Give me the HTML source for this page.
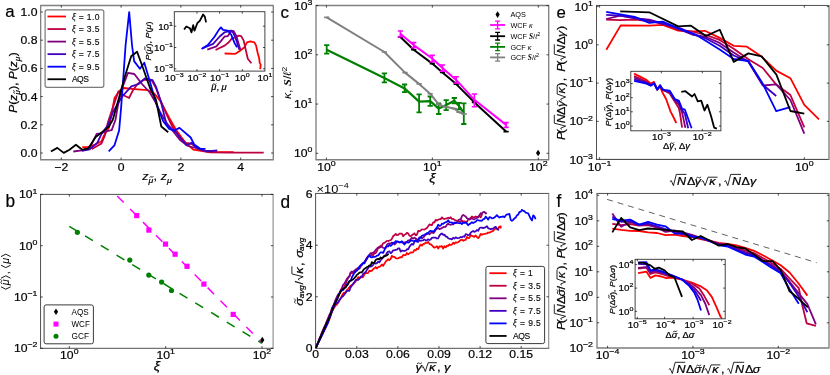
<!DOCTYPE html>
<html><head><meta charset="utf-8"><style>
html,body{margin:0;padding:0;background:#fff;}
svg{display:block;font-family:"Liberation Sans",sans-serif;}
text{fill:#000;}
svg{will-change:transform;}
</style></head><body>
<svg width="830" height="375" viewBox="0 0 830 375">
<rect width="830" height="375" fill="#fff"/>
<path d="M40.15 5.45H273.8" stroke="#808080" stroke-width="1.35" fill="none"/>
<path d="M40.15 159.75H273.8" stroke="#808080" stroke-width="1.35" fill="none"/>
<path d="M40.65 5.45V159.75" stroke="#808080" stroke-width="1.35" fill="none"/>
<path d="M273.3 5.45V159.75" stroke="#808080" stroke-width="1.35" fill="none"/>
<path d="M61.30 159.75v-2.2M61.30 5.45v2.2M121.10 159.75v-2.2M121.10 5.45v2.2M180.90 159.75v-2.2M180.90 5.45v2.2M240.70 159.75v-2.2M240.70 5.45v2.2M40.65 153.00h2.2M273.3 153.00h-2.2M40.65 124.80h2.2M273.3 124.80h-2.2M40.65 96.60h2.2M273.3 96.60h-2.2M40.65 68.40h2.2M273.3 68.40h-2.2M40.65 40.20h2.2M273.3 40.20h-2.2M40.65 12.00h2.2M273.3 12.00h-2.2" stroke="#000" stroke-width="0.7" fill="none"/>
<text transform="translate(37.50 157.00) scale(1.13 1)" font-size="10.8" text-anchor="end" stroke="#000" stroke-width="0.2" >0.0</text>
<text transform="translate(37.50 128.80) scale(1.13 1)" font-size="10.8" text-anchor="end" stroke="#000" stroke-width="0.2" >0.2</text>
<text transform="translate(37.50 100.60) scale(1.13 1)" font-size="10.8" text-anchor="end" stroke="#000" stroke-width="0.2" >0.4</text>
<text transform="translate(37.50 72.40) scale(1.13 1)" font-size="10.8" text-anchor="end" stroke="#000" stroke-width="0.2" >0.6</text>
<text transform="translate(37.50 44.20) scale(1.13 1)" font-size="10.8" text-anchor="end" stroke="#000" stroke-width="0.2" >0.8</text>
<text transform="translate(37.50 16.00) scale(1.13 1)" font-size="10.8" text-anchor="end" stroke="#000" stroke-width="0.2" >1.0</text>
<text transform="translate(61.30 171.30) scale(1.13 1)" font-size="10.8" text-anchor="middle" stroke="#000" stroke-width="0.2" >−2</text>
<text transform="translate(121.10 171.30) scale(1.13 1)" font-size="10.8" text-anchor="middle" stroke="#000" stroke-width="0.2" >0</text>
<text transform="translate(180.90 171.30) scale(1.13 1)" font-size="10.8" text-anchor="middle" stroke="#000" stroke-width="0.2" >2</text>
<text transform="translate(240.70 171.30) scale(1.13 1)" font-size="10.8" text-anchor="middle" stroke="#000" stroke-width="0.2" >4</text>
<text transform="translate(5.20 17.40) scale(1.0 1)" font-size="16.8" text-anchor="start" stroke="#000" stroke-width="0.2" >a</text>
<path d="M40.05 194.4H273.6" stroke="#505050" stroke-width="1.0" fill="none"/>
<path d="M40.05 348.3H273.6" stroke="#505050" stroke-width="1.0" fill="none"/>
<path d="M40.55 194.4V348.3" stroke="#505050" stroke-width="1.0" fill="none"/>
<path d="M273.1 194.4V348.3" stroke="#8a8a8a" stroke-width="1.1" fill="none"/>
<path d="M69.30 348.3v-2.2M69.30 194.4v2.2M165.65 348.3v-2.2M165.65 194.4v2.2M262.00 348.3v-2.2M262.00 194.4v2.2M40.55 194.40h2.2M273.1 194.40h-2.2M40.55 245.70h2.2M273.1 245.70h-2.2M40.55 297.00h2.2M273.1 297.00h-2.2M40.55 348.30h2.2M273.1 348.30h-2.2" stroke="#000" stroke-width="0.7" fill="none"/>
<text transform="translate(37.50 198.40) scale(1.13 1)" font-size="10.8" text-anchor="end" stroke="#000" stroke-width="0.2" >10<tspan dy="-4.86" font-size="7.78">1</tspan></text>
<text transform="translate(37.50 249.70) scale(1.13 1)" font-size="10.8" text-anchor="end" stroke="#000" stroke-width="0.2" >10<tspan dy="-4.86" font-size="7.78">0</tspan></text>
<text transform="translate(37.50 301.00) scale(1.13 1)" font-size="10.8" text-anchor="end" stroke="#000" stroke-width="0.2" >10<tspan dy="-4.86" font-size="7.78">−1</tspan></text>
<text transform="translate(37.50 352.30) scale(1.13 1)" font-size="10.8" text-anchor="end" stroke="#000" stroke-width="0.2" >10<tspan dy="-4.86" font-size="7.78">−2</tspan></text>
<text transform="translate(69.30 359.30) scale(1.13 1)" font-size="10.8" text-anchor="middle" stroke="#000" stroke-width="0.2" >10<tspan dy="-4.86" font-size="7.78">0</tspan></text>
<text transform="translate(165.65 359.30) scale(1.13 1)" font-size="10.8" text-anchor="middle" stroke="#000" stroke-width="0.2" >10<tspan dy="-4.86" font-size="7.78">1</tspan></text>
<text transform="translate(262.00 359.30) scale(1.13 1)" font-size="10.8" text-anchor="middle" stroke="#000" stroke-width="0.2" >10<tspan dy="-4.86" font-size="7.78">2</tspan></text>
<text transform="translate(5.40 207.30) scale(0.98 1)" font-size="17.6" text-anchor="start" stroke="#000" stroke-width="0.2" >b</text>
<path d="M315.5 5.45H549.2" stroke="#808080" stroke-width="1.35" fill="none"/>
<path d="M315.5 159.75H549.2" stroke="#808080" stroke-width="1.35" fill="none"/>
<path d="M316.0 5.45V159.75" stroke="#808080" stroke-width="1.35" fill="none"/>
<path d="M548.7 5.45V159.75" stroke="#808080" stroke-width="1.35" fill="none"/>
<path d="M326.40 159.75v-2.2M326.40 5.45v2.2M432.35 159.75v-2.2M432.35 5.45v2.2M538.30 159.75v-2.2M538.30 5.45v2.2M316.0 153.30h2.2M548.7 153.30h-2.2M316.0 104.05h2.2M548.7 104.05h-2.2M316.0 54.80h2.2M548.7 54.80h-2.2M316.0 5.55h2.2M548.7 5.55h-2.2" stroke="#000" stroke-width="0.7" fill="none"/>
<text transform="translate(312.50 157.30) scale(1.13 1)" font-size="10.8" text-anchor="end" stroke="#000" stroke-width="0.2" >10<tspan dy="-4.86" font-size="7.78">0</tspan></text>
<text transform="translate(312.50 108.05) scale(1.13 1)" font-size="10.8" text-anchor="end" stroke="#000" stroke-width="0.2" >10<tspan dy="-4.86" font-size="7.78">1</tspan></text>
<text transform="translate(312.50 58.80) scale(1.13 1)" font-size="10.8" text-anchor="end" stroke="#000" stroke-width="0.2" >10<tspan dy="-4.86" font-size="7.78">2</tspan></text>
<text transform="translate(312.50 9.55) scale(1.13 1)" font-size="10.8" text-anchor="end" stroke="#000" stroke-width="0.2" >10<tspan dy="-4.86" font-size="7.78">3</tspan></text>
<text transform="translate(326.40 170.50) scale(1.13 1)" font-size="10.8" text-anchor="middle" stroke="#000" stroke-width="0.2" >10<tspan dy="-4.86" font-size="7.78">0</tspan></text>
<text transform="translate(432.35 170.50) scale(1.13 1)" font-size="10.8" text-anchor="middle" stroke="#000" stroke-width="0.2" >10<tspan dy="-4.86" font-size="7.78">1</tspan></text>
<text transform="translate(538.30 170.50) scale(1.13 1)" font-size="10.8" text-anchor="middle" stroke="#000" stroke-width="0.2" >10<tspan dy="-4.86" font-size="7.78">2</tspan></text>
<text transform="translate(280.60 17.80) scale(1.0 1)" font-size="16.8" text-anchor="start" stroke="#000" stroke-width="0.2" >c</text>
<path d="M315.1 193.45H549.2" stroke="#505050" stroke-width="1.0" fill="none"/>
<path d="M315.1 348.3H549.2" stroke="#505050" stroke-width="1.0" fill="none"/>
<path d="M315.6 193.45V348.3" stroke="#505050" stroke-width="1.0" fill="none"/>
<path d="M548.7 193.45V348.3" stroke="#8a8a8a" stroke-width="1.1" fill="none"/>
<path d="M356.80 348.3v-2.2M356.80 193.45v2.2M397.90 348.3v-2.2M397.90 193.45v2.2M439.00 348.3v-2.2M439.00 193.45v2.2M480.10 348.3v-2.2M480.10 193.45v2.2M521.20 348.3v-2.2M521.20 193.45v2.2M315.6 296.76h2.2M548.7 296.76h-2.2M315.6 245.22h2.2M548.7 245.22h-2.2" stroke="#000" stroke-width="0.7" fill="none"/>
<text transform="translate(312.50 352.30) scale(1.13 1)" font-size="10.8" text-anchor="end" stroke="#000" stroke-width="0.2" >0</text>
<text transform="translate(312.50 300.76) scale(1.13 1)" font-size="10.8" text-anchor="end" stroke="#000" stroke-width="0.2" >2</text>
<text transform="translate(312.50 249.22) scale(1.13 1)" font-size="10.8" text-anchor="end" stroke="#000" stroke-width="0.2" >4</text>
<text transform="translate(312.50 197.68) scale(1.13 1)" font-size="10.8" text-anchor="end" stroke="#000" stroke-width="0.2" >6</text>
<text transform="translate(315.70 358.40) scale(1.13 1)" font-size="10.8" text-anchor="middle" stroke="#000" stroke-width="0.2" >0</text>
<text transform="translate(356.80 358.40) scale(1.13 1)" font-size="10.8" text-anchor="middle" stroke="#000" stroke-width="0.2" >0.03</text>
<text transform="translate(397.90 358.40) scale(1.13 1)" font-size="10.8" text-anchor="middle" stroke="#000" stroke-width="0.2" >0.06</text>
<text transform="translate(439.00 358.40) scale(1.13 1)" font-size="10.8" text-anchor="middle" stroke="#000" stroke-width="0.2" >0.09</text>
<text transform="translate(480.10 358.40) scale(1.13 1)" font-size="10.8" text-anchor="middle" stroke="#000" stroke-width="0.2" >0.12</text>
<text transform="translate(521.20 358.40) scale(1.13 1)" font-size="10.8" text-anchor="middle" stroke="#000" stroke-width="0.2" >0.15</text>
<text transform="translate(280.40 207.50) scale(0.98 1)" font-size="17.6" text-anchor="start" stroke="#000" stroke-width="0.2" >d</text>
<path d="M596.0 5.45H829.5" stroke="#505050" stroke-width="1.0" fill="none"/>
<path d="M596.0 159.4H829.5" stroke="#3a3a3a" stroke-width="1.0" fill="none"/>
<path d="M596.5 5.45V159.4" stroke="#505050" stroke-width="1.0" fill="none"/>
<path d="M829.0 5.45V159.4" stroke="#9a9a9a" stroke-width="1.7" fill="none"/>
<path d="M599.60 159.4v-2.2M599.60 5.45v2.2M804.30 159.4v-2.2M804.30 5.45v2.2M596.5 6.60h2.2M829.0 6.60h-2.2M596.5 44.85h2.2M829.0 44.85h-2.2M596.5 83.10h2.2M829.0 83.10h-2.2M596.5 121.35h2.2M829.0 121.35h-2.2" stroke="#000" stroke-width="0.7" fill="none"/>
<text transform="translate(593.00 10.60) scale(1.13 1)" font-size="10.8" text-anchor="end" stroke="#000" stroke-width="0.2" >10<tspan dy="-4.86" font-size="7.78">1</tspan></text>
<text transform="translate(593.00 48.85) scale(1.13 1)" font-size="10.8" text-anchor="end" stroke="#000" stroke-width="0.2" >10<tspan dy="-4.86" font-size="7.78">0</tspan></text>
<text transform="translate(593.00 87.10) scale(1.13 1)" font-size="10.8" text-anchor="end" stroke="#000" stroke-width="0.2" >10<tspan dy="-4.86" font-size="7.78">−1</tspan></text>
<text transform="translate(593.00 125.35) scale(1.13 1)" font-size="10.8" text-anchor="end" stroke="#000" stroke-width="0.2" >10<tspan dy="-4.86" font-size="7.78">−2</tspan></text>
<text transform="translate(593.00 163.60) scale(1.13 1)" font-size="10.8" text-anchor="end" stroke="#000" stroke-width="0.2" >10<tspan dy="-4.86" font-size="7.78">−3</tspan></text>
<text transform="translate(599.60 170.50) scale(1.13 1)" font-size="10.8" text-anchor="middle" stroke="#000" stroke-width="0.2" >10<tspan dy="-4.86" font-size="7.78">−1</tspan></text>
<text transform="translate(804.30 170.50) scale(1.13 1)" font-size="10.8" text-anchor="middle" stroke="#000" stroke-width="0.2" >10<tspan dy="-4.86" font-size="7.78">0</tspan></text>
<text transform="translate(556.40 17.70) scale(1.0 1)" font-size="16.8" text-anchor="start" stroke="#000" stroke-width="0.2" >e</text>
<path d="M596.5 193.45H829.5" stroke="#505050" stroke-width="1.0" fill="none"/>
<path d="M596.5 348.0H829.5" stroke="#3a3a3a" stroke-width="1.0" fill="none"/>
<path d="M597.0 193.45V348.0" stroke="#808080" stroke-width="1.35" fill="none"/>
<path d="M829.0 193.45V348.0" stroke="#9a9a9a" stroke-width="1.7" fill="none"/>
<path d="M607.60 348.0v-2.2M607.60 193.45v2.2M692.95 348.0v-2.2M692.95 193.45v2.2M778.30 348.0v-2.2M778.30 193.45v2.2M597.0 195.30h2.2M829.0 195.30h-2.2M597.0 220.80h2.2M829.0 220.80h-2.2M597.0 246.30h2.2M829.0 246.30h-2.2M597.0 271.80h2.2M829.0 271.80h-2.2M597.0 297.30h2.2M829.0 297.30h-2.2M597.0 322.80h2.2M829.0 322.80h-2.2" stroke="#000" stroke-width="0.7" fill="none"/>
<text transform="translate(593.00 199.30) scale(1.13 1)" font-size="10.8" text-anchor="end" stroke="#000" stroke-width="0.2" >10<tspan dy="-4.86" font-size="7.78">4</tspan></text>
<text transform="translate(593.00 224.80) scale(1.13 1)" font-size="10.8" text-anchor="end" stroke="#000" stroke-width="0.2" >10<tspan dy="-4.86" font-size="7.78">3</tspan></text>
<text transform="translate(593.00 250.30) scale(1.13 1)" font-size="10.8" text-anchor="end" stroke="#000" stroke-width="0.2" >10<tspan dy="-4.86" font-size="7.78">2</tspan></text>
<text transform="translate(593.00 275.80) scale(1.13 1)" font-size="10.8" text-anchor="end" stroke="#000" stroke-width="0.2" >10<tspan dy="-4.86" font-size="7.78">1</tspan></text>
<text transform="translate(593.00 301.30) scale(1.13 1)" font-size="10.8" text-anchor="end" stroke="#000" stroke-width="0.2" >10<tspan dy="-4.86" font-size="7.78">0</tspan></text>
<text transform="translate(593.00 326.80) scale(1.13 1)" font-size="10.8" text-anchor="end" stroke="#000" stroke-width="0.2" >10<tspan dy="-4.86" font-size="7.78">−1</tspan></text>
<text transform="translate(593.00 352.30) scale(1.13 1)" font-size="10.8" text-anchor="end" stroke="#000" stroke-width="0.2" >10<tspan dy="-4.86" font-size="7.78">−2</tspan></text>
<text transform="translate(607.60 358.60) scale(1.13 1)" font-size="10.8" text-anchor="middle" stroke="#000" stroke-width="0.2" >10<tspan dy="-4.86" font-size="7.78">−4</tspan></text>
<text transform="translate(692.95 358.60) scale(1.13 1)" font-size="10.8" text-anchor="middle" stroke="#000" stroke-width="0.2" >10<tspan dy="-4.86" font-size="7.78">−3</tspan></text>
<text transform="translate(778.30 358.60) scale(1.13 1)" font-size="10.8" text-anchor="middle" stroke="#000" stroke-width="0.2" >10<tspan dy="-4.86" font-size="7.78">−2</tspan></text>
<text transform="translate(556.60 206.80) scale(0.98 1)" font-size="17.6" text-anchor="start" stroke="#000" stroke-width="0.2" >f</text>
<clipPath id="ca"><rect x="40.65" y="5.45" width="232.65" height="154.3"/></clipPath><g clip-path="url(#ca)">
<path d="M82.3 147.2L87.7 147.2L95.1 144.5L101.5 141.3L103.7 136.0L109.0 127.5L112.0 112.0L114.5 98.0L119.6 90.8L123.5 88.0L137.5 89.3L148.0 90.2L154.3 93.6L159.9 100.3L164.0 108.0L169.0 117.5L176.0 129.7L184.7 141.8L193.3 149.6L207.2 151.8L233.6 152.2" stroke="#ff0000" stroke-width="1.8" fill="none" stroke-linejoin="round" stroke-linecap="butt" />
<path d="M91.9 149.0L101.5 143.5L104.7 136.0L108.0 122.0L112.0 110.0L118.4 91.4L124.6 95.8L129.0 98.0L133.0 90.2L137.5 84.0L144.2 79.6L152.0 80.7L156.0 88.0L160.0 99.0L166.0 113.0L172.0 126.0L180.0 138.0L186.0 143.0L192.0 144.0L198.0 149.0L210.0 152.3L230.0 152.6L263.7 152.7" stroke="#bf0040" stroke-width="1.8" fill="none" stroke-linejoin="round" stroke-linecap="butt" />
<path d="M73.3 151.5L81.8 150.4L89.8 147.7L96.7 133.9L100.5 133.3L106.9 131.2L111.7 130.1L115.4 120.0L118.0 105.0L121.8 89.0L128.0 72.9L134.3 74.0L142.0 84.0L149.8 92.5L155.4 102.0L160.0 112.0L166.0 122.0L172.0 130.0L180.0 140.0L188.0 146.0L196.0 148.0L204.0 151.0L217.0 150.8" stroke="#800080" stroke-width="1.8" fill="none" stroke-linejoin="round" stroke-linecap="butt" />
<path d="M81.8 150.9L89.8 149.3L97.3 142.9L101.5 133.9L107.9 125.3L113.0 112.0L121.8 97.0L131.3 86.3L138.6 84.0L144.8 78.5L152.6 80.2L156.0 86.9L161.0 102.0L166.5 124.5L176.0 132.3L186.4 145.3L191.6 142.7L196.8 147.9L207.2 151.3L217.3 150.3" stroke="#4000bf" stroke-width="1.8" fill="none" stroke-linejoin="round" stroke-linecap="butt" />
<path d="M108.7 151.3L114.4 145.4L119.1 130.6L121.0 108.9L123.5 75.0L125.6 45.0L129.2 12.2L132.0 45.0L134.1 61.1L139.9 68.7L144.3 62.8L149.8 81.3L154.3 97.0L158.0 108.0L163.0 121.0L169.0 128.8L174.3 130.5L179.5 127.9L190.7 137.5L194.2 144.4L200.3 148.7L205.4 148.9" stroke="#0000ff" stroke-width="1.8" fill="none" stroke-linejoin="round" stroke-linecap="butt" />
<path d="M50.9 151.5L57.3 147.9L63.7 152.9L69.5 149.7L75.9 144.7L82.3 149.7L88.2 148.6L95.7 137.0L104.7 130.1L109.0 126.4L112.7 120.0L118.8 98.5L125.0 76.0L131.2 56.2L137.1 51.7L143.0 68.0L150.0 88.0L156.0 100.0L161.3 126.5L168.2 132.3" stroke="#000000" stroke-width="1.8" fill="none" stroke-linejoin="round" stroke-linecap="butt" />
</g>
<g transform="translate(17.00 82.50) rotate(-90)"><text transform="translate(-30.15 0.00) scale(1.13 1)" font-size="10.5" font-style="italic" fill="#000" stroke="#000" stroke-width="0.22">P</text><text transform="translate(-22.23 0.00) scale(1.13 1)" font-size="10.5" fill="#000" stroke="#000" stroke-width="0.22">(</text><text transform="translate(-18.28 0.00) scale(1.13 1)" font-size="10.5" font-style="italic" fill="#000" stroke="#000" stroke-width="0.22">z</text><text transform="translate(-12.15 2.62) scale(1.13 1)" font-size="7.35" font-style="italic" fill="#000" stroke="#000" stroke-width="0.22">μ</text><path d="M-10.90 -2.47q0.77 -1.7 1.54 -0.5t1.54 -0.5" stroke="#000" stroke-width="0.8" fill="none" stroke-linecap="round"/><text transform="translate(-7.30 0.00) scale(1.13 1)" font-size="10.5" fill="#000" stroke="#000" stroke-width="0.22">)</text><text transform="translate(-3.35 0.00) scale(1.13 1)" font-size="10.5" fill="#000" stroke="#000" stroke-width="0.22">,</text><text transform="translate(3.35 0.00) scale(1.13 1)" font-size="10.5" font-style="italic" fill="#000" stroke="#000" stroke-width="0.22">P</text><text transform="translate(11.26 0.00) scale(1.13 1)" font-size="10.5" fill="#000" stroke="#000" stroke-width="0.22">(</text><text transform="translate(15.21 0.00) scale(1.13 1)" font-size="10.5" font-style="italic" fill="#000" stroke="#000" stroke-width="0.22">z</text><text transform="translate(21.35 2.62) scale(1.13 1)" font-size="7.35" font-style="italic" fill="#000" stroke="#000" stroke-width="0.22">μ</text><text transform="translate(26.20 0.00) scale(1.13 1)" font-size="10.5" fill="#000" stroke="#000" stroke-width="0.22">)</text></g>
<g transform="translate(157.00 180.00)"><text transform="translate(-14.81 0.00) scale(1.13 1)" font-size="11" font-style="italic" fill="#000" stroke="#000" stroke-width="0.22">z</text><text transform="translate(-8.39 2.70) scale(1.13 1)" font-size="7.7" font-style="italic" fill="#000" stroke="#000" stroke-width="0.22">μ</text><path d="M-7.09 -2.58q0.81 -1.7 1.62 -0.5t1.62 -0.5" stroke="#000" stroke-width="0.8" fill="none" stroke-linecap="round"/><text transform="translate(-3.43 0.00) scale(1.13 1)" font-size="11" fill="#000" stroke="#000" stroke-width="0.22">,</text><text transform="translate(3.63 0.00) scale(1.13 1)" font-size="11" font-style="italic" fill="#000" stroke="#000" stroke-width="0.22">z</text><text transform="translate(10.04 2.70) scale(1.13 1)" font-size="7.7" font-style="italic" fill="#000" stroke="#000" stroke-width="0.22">μ</text></g>
<rect x="45.1" y="9.85" width="58.70" height="77.45" rx="2" ry="2" fill="#fff" stroke="#7a7a7a" stroke-width="1.2"/>
<path d="M47.5 16.50H66" stroke="#ff0000" stroke-width="1.8"/>
<text x="71.9" y="19.50" font-size="8.5" fill="#1a1a1a" stroke="#1a1a1a" stroke-width="0.15" textLength="27.5" lengthAdjust="spacing"><tspan font-style="italic">ξ</tspan> = 1.0</text>
<path d="M47.5 29.05H66" stroke="#bf0040" stroke-width="1.8"/>
<text x="71.9" y="32.05" font-size="8.5" fill="#1a1a1a" stroke="#1a1a1a" stroke-width="0.15" textLength="27.5" lengthAdjust="spacing"><tspan font-style="italic">ξ</tspan> = 3.5</text>
<path d="M47.5 41.60H66" stroke="#800080" stroke-width="1.8"/>
<text x="71.9" y="44.60" font-size="8.5" fill="#1a1a1a" stroke="#1a1a1a" stroke-width="0.15" textLength="27.5" lengthAdjust="spacing"><tspan font-style="italic">ξ</tspan> = 5.5</text>
<path d="M47.5 54.15H66" stroke="#4000bf" stroke-width="1.8"/>
<text x="71.9" y="57.15" font-size="8.5" fill="#1a1a1a" stroke="#1a1a1a" stroke-width="0.15" textLength="27.5" lengthAdjust="spacing"><tspan font-style="italic">ξ</tspan> = 7.5</text>
<path d="M47.5 66.70H66" stroke="#0000ff" stroke-width="1.8"/>
<text x="71.9" y="69.70" font-size="8.5" fill="#1a1a1a" stroke="#1a1a1a" stroke-width="0.15" textLength="27.5" lengthAdjust="spacing"><tspan font-style="italic">ξ</tspan> = 9.5</text>
<path d="M47.5 79.25H66" stroke="#000000" stroke-width="1.8"/>
<text x="71.9" y="82.25" font-size="8.5" fill="#1a1a1a" stroke="#1a1a1a" stroke-width="0.15" textLength="17" lengthAdjust="spacing">AQS</text>
<rect x="174.3" y="11.7" width="90.60" height="59.40" fill="none" stroke="#303030" stroke-width="0.9"/>
<path d="M196.95 71.1v-2M196.95 11.7v2M219.60 71.1v-2M219.60 11.7v2M242.25 71.1v-2M242.25 11.7v2M174.3 26.20h2M264.9 26.20h-2M174.3 47.50h2M264.9 47.50h-2M174.3 68.80h2M264.9 68.80h-2" stroke="#000" stroke-width="0.7" fill="none"/>
<text transform="translate(173.00 29.50) scale(1.13 1)" font-size="8.7" text-anchor="end" stroke="#000" stroke-width="0.2" >10<tspan dy="-3.91" font-size="6.26">1</tspan></text>
<text transform="translate(173.00 50.80) scale(1.13 1)" font-size="8.7" text-anchor="end" stroke="#000" stroke-width="0.2" >10<tspan dy="-3.91" font-size="6.26">−1</tspan></text>
<text transform="translate(173.00 72.10) scale(1.13 1)" font-size="8.7" text-anchor="end" stroke="#000" stroke-width="0.2" >10<tspan dy="-3.91" font-size="6.26">−3</tspan></text>
<text transform="translate(174.30 81.00) scale(1.13 1)" font-size="8.7" text-anchor="middle" stroke="#000" stroke-width="0.2" >10<tspan dy="-3.91" font-size="6.26">−3</tspan></text>
<text transform="translate(196.95 81.00) scale(1.13 1)" font-size="8.7" text-anchor="middle" stroke="#000" stroke-width="0.2" >10<tspan dy="-3.91" font-size="6.26">−2</tspan></text>
<text transform="translate(219.60 81.00) scale(1.13 1)" font-size="8.7" text-anchor="middle" stroke="#000" stroke-width="0.2" >10<tspan dy="-3.91" font-size="6.26">−1</tspan></text>
<text transform="translate(242.25 81.00) scale(1.13 1)" font-size="8.7" text-anchor="middle" stroke="#000" stroke-width="0.2" >10<tspan dy="-3.91" font-size="6.26">0</tspan></text>
<text transform="translate(264.90 81.00) scale(1.13 1)" font-size="8.7" text-anchor="middle" stroke="#000" stroke-width="0.2" >10<tspan dy="-3.91" font-size="6.26">1</tspan></text>
<g transform="translate(219.00 90.30)"><text transform="translate(-7.74 0.00) scale(1.13 1)" font-size="8.3" font-style="italic" fill="#000" stroke="#000" stroke-width="0.22">μ</text><path d="M-6.33 -5.60q0.87 -1.7 1.74 -0.5t1.74 -0.5" stroke="#000" stroke-width="0.8" fill="none" stroke-linecap="round"/><text transform="translate(-2.60 0.00) scale(1.13 1)" font-size="8.3" fill="#000" stroke="#000" stroke-width="0.22">,</text><text transform="translate(2.60 0.00) scale(1.13 1)" font-size="8.3" font-style="italic" fill="#000" stroke="#000" stroke-width="0.22">μ</text></g>
<g transform="translate(150.80 41.00) rotate(-90)"><text transform="translate(-19.51 0.00) scale(1.13 1)" font-size="8" font-style="italic" fill="#000" stroke="#000" stroke-width="0.22">P</text><text transform="translate(-13.48 0.00) scale(1.13 1)" font-size="8" fill="#000" stroke="#000" stroke-width="0.22">(</text><text transform="translate(-10.47 0.00) scale(1.13 1)" font-size="8" font-style="italic" fill="#000" stroke="#000" stroke-width="0.22">μ</text><path d="M-9.11 -5.44q0.84 -1.7 1.68 -0.5t1.68 -0.5" stroke="#000" stroke-width="0.8" fill="none" stroke-linecap="round"/><text transform="translate(-5.52 0.00) scale(1.13 1)" font-size="8" fill="#000" stroke="#000" stroke-width="0.22">)</text><text transform="translate(-2.51 0.00) scale(1.13 1)" font-size="8" fill="#000" stroke="#000" stroke-width="0.22">,</text><text transform="translate(2.51 0.00) scale(1.13 1)" font-size="8" font-style="italic" fill="#000" stroke="#000" stroke-width="0.22">P</text><text transform="translate(8.54 0.00) scale(1.13 1)" font-size="8" fill="#000" stroke="#000" stroke-width="0.22">(</text><text transform="translate(11.55 0.00) scale(1.13 1)" font-size="8" font-style="italic" fill="#000" stroke="#000" stroke-width="0.22">μ</text><text transform="translate(16.50 0.00) scale(1.13 1)" font-size="8" fill="#000" stroke="#000" stroke-width="0.22">)</text></g>
<path d="M224.6 53.5L235.4 53.8L240.4 50.5L244.5 47.2L247.0 42.3L250.3 41.4L254.4 42.3L256.1 45.6L257.7 53.0L259.1 58.0L259.7 62.9L260.7 64.6L260.2 69.2" stroke="#ff0000" stroke-width="1.8" fill="none" stroke-linejoin="round" stroke-linecap="butt" />
<path d="M215.5 50.0L224.6 45.6L228.8 42.3L232.1 38.1L236.2 37.3L238.7 35.6L241.2 36.1L243.7 40.6L246.1 51.4L247.8 58.8L251.4 63.3" stroke="#bf0040" stroke-width="1.8" fill="none" stroke-linejoin="round" stroke-linecap="butt" />
<path d="M207.3 49.7L216.4 46.4L221.3 40.6L224.6 36.5L227.9 36.1L231.3 30.7L233.7 31.2L236.2 35.6L238.7 43.9L240.4 49.7" stroke="#800080" stroke-width="1.8" fill="none" stroke-linejoin="round" stroke-linecap="butt" />
<path d="M202.3 48.4L213.1 43.9L219.7 36.5L224.6 32.3L230.4 30.7L232.9 32.3L235.4 37.3L237.9 45.6L239.5 49.7" stroke="#4000bf" stroke-width="1.8" fill="none" stroke-linejoin="round" stroke-linecap="butt" />
<path d="M201.5 48.9L208.1 44.7L214.7 36.5L218.8 29.9L221.0 27.4L223.0 29.9L227.9 30.7L231.3 34.8L234.6 43.1L237.0 47.2" stroke="#0000ff" stroke-width="1.8" fill="none" stroke-linejoin="round" stroke-linecap="butt" />
<path d="M184.1 29.5L186.3 26.5L189.9 28.2L191.5 32.3L193.2 25.2L194.5 30.7L197.3 23.2L199.8 20.8L203.1 14.5L204.8 16.6L206.1 22.4" stroke="#000000" stroke-width="1.8" fill="none" stroke-linejoin="round" stroke-linecap="butt" />
<clipPath id="cb"><rect x="40.55" y="194.4" width="232.55" height="153.9"/></clipPath><g clip-path="url(#cb)">
<path d="M117.2 195.92L262 342.82" stroke="#ff00ff" stroke-width="1.5" stroke-dasharray="9.2 9.2" fill="none"/>
<path d="M69.3 226.30L262 343.46" stroke="#008000" stroke-width="1.5" stroke-dasharray="9.2 9.23" fill="none"/>
</g>
<rect x="134.10" y="213.00" width="5.2" height="5.2" fill="#ff00ff"/>
<rect x="146.30" y="227.50" width="5.2" height="5.2" fill="#ff00ff"/>
<rect x="162.90" y="241.50" width="5.2" height="5.2" fill="#ff00ff"/>
<rect x="172.50" y="251.60" width="5.2" height="5.2" fill="#ff00ff"/>
<rect x="184.40" y="263.70" width="5.2" height="5.2" fill="#ff00ff"/>
<rect x="201.30" y="281.50" width="5.2" height="5.2" fill="#ff00ff"/>
<rect x="230.60" y="311.80" width="5.2" height="5.2" fill="#ff00ff"/>
<circle cx="77.40" cy="232.30" r="2.6" fill="#008000"/>
<circle cx="129.80" cy="260.10" r="2.6" fill="#008000"/>
<circle cx="148.80" cy="275.10" r="2.6" fill="#008000"/>
<circle cx="161.60" cy="282.10" r="2.6" fill="#008000"/>
<circle cx="171.50" cy="290.50" r="2.6" fill="#008000"/>
<path d="M262.30 336.70L264.40 340.00L262.30 343.30L260.20 340.00Z" fill="#000"/>
<rect x="44.1" y="304.9" width="49.3" height="38.9" rx="2" ry="2" fill="#fff" stroke="#3a3a3a" stroke-width="1"/>
<path d="M56.00 308.50L58.10 311.80L56.00 315.10L53.90 311.80Z" fill="#000"/>
<rect x="53.50" y="321.60" width="5" height="5" fill="#ff00ff"/>
<circle cx="56.00" cy="336.30" r="2.5" fill="#008000"/>
<text x="71.5" y="314.80" font-size="8.3" fill="#1a1a1a" textLength="17.2" lengthAdjust="spacingAndGlyphs">AQS</text>
<text x="71.5" y="327.10" font-size="8.3" fill="#1a1a1a" textLength="18.3" lengthAdjust="spacingAndGlyphs">WCF</text>
<text x="71.5" y="339.30" font-size="8.3" fill="#1a1a1a" textLength="17.5" lengthAdjust="spacingAndGlyphs">GCF</text>
<text transform="translate(157.00 370.40) scale(1.13 1)" font-size="12.5" text-anchor="middle" stroke="#000" stroke-width="0.2" ><tspan font-style="italic">ξ</tspan></text>
<g transform="translate(8.9 271) rotate(-90)"><path d="M-15.80 -7.9L-18.20 -3.10L-15.80 1.7" stroke="#000" stroke-width="0.9" fill="none"/><text x="-14.3" y="0" font-size="10.8" font-style="italic">μ</text><path d="M-12.80 -7.10q1.10 -1.7 2.20 -0.5t2.20 -0.5" stroke="#000" stroke-width="0.8" fill="none" stroke-linecap="round"/><path d="M-7.20 -7.9L-4.80 -3.10L-7.20 1.7" stroke="#000" stroke-width="0.9" fill="none"/><text x="-3.2" y="0" font-size="10.8">,</text><path d="M5.80 -7.9L3.40 -3.10L5.80 1.7" stroke="#000" stroke-width="0.9" fill="none"/><text x="7.3" y="0" font-size="10.8" font-style="italic">μ</text><path d="M14.40 -7.9L16.80 -3.10L14.40 1.7" stroke="#000" stroke-width="0.9" fill="none"/></g>
<path d="M326.7 49.8L384.4 78.0L404.6 88.4L419.1 101.6L430.2 101.2L438.7 108.6L446.2 105.0L454.3 100.7L459.0 105.9L463.8 112.9" stroke="#008000" stroke-width="2.2" fill="none" stroke-linejoin="round" stroke-linecap="butt" />
<path d="M326.70 45.10V53.70M324.10 45.10h5.2M324.10 53.70h5.2M384.40 73.30V82.30M381.80 73.30h5.2M381.80 82.30h5.2M404.60 84.50V92.20M402.00 84.50h5.2M402.00 92.20h5.2M419.10 94.30V112.30M416.50 94.30h5.2M416.50 112.30h5.2M430.20 96.50V105.90M427.60 96.50h5.2M427.60 105.90h5.2M438.70 103.30V114.00M436.10 103.30h5.2M436.10 114.00h5.2M446.20 100.10V110.10M443.60 100.10h5.2M443.60 110.10h5.2M454.30 98.00V103.30M451.70 98.00h5.2M451.70 103.30h5.2M459.00 102.90V109.30M456.40 102.90h5.2M456.40 109.30h5.2M463.80 103.40V124.00M461.20 103.40h5.2M461.20 124.00h5.2" stroke="#008000" stroke-width="1.8" fill="none"/>
<path d="M326.7 17.4L384.4 52.0L405.0 72.6L419.1 83.9L430.2 93.7L438.7 104.4L446.2 107.1L454.3 108.6L459.0 112.3L464.3 114.0" stroke="#808080" stroke-width="2.0" fill="none" stroke-linejoin="round" stroke-linecap="butt" />
<path d="M324.10 17.40h5.2M381.80 52.00h5.2M402.40 72.60h5.2M416.50 83.90h5.2M427.60 93.70h5.2M436.10 104.40h5.2M443.60 107.10h5.2M451.70 108.60h5.2M456.40 112.30h5.2M461.70 114.00h5.2" stroke="#808080" stroke-width="1.6" fill="none"/>
<path d="M400.4 37.0L413.7 49.8L432.3 63.6L442.5 72.4L456.2 84.1L474.4 102.4L506.1 131.6" stroke="#000000" stroke-width="2.0" fill="none" stroke-linejoin="round" stroke-linecap="butt" />
<path d="M397.80 37.00h5.2M411.10 49.80h5.2M429.70 63.60h5.2M439.90 72.40h5.2M453.60 84.10h5.2M471.80 102.40h5.2M503.50 131.60h5.2" stroke="#000000" stroke-width="1.6" fill="none"/>
<path d="M400.4 33.8L413.7 45.1L432.3 58.5L442.5 68.1L456.2 79.9L474.4 99.8L506.1 124.9" stroke="#ff00ff" stroke-width="2.0" fill="none" stroke-linejoin="round" stroke-linecap="butt" />
<path d="M400.40 31.00V36.60M397.80 31.00h5.2M397.80 36.60h5.2M413.70 42.60V47.60M411.10 42.60h5.2M411.10 47.60h5.2M432.30 55.30V61.70M429.70 55.30h5.2M429.70 61.70h5.2M442.50 65.00V71.30M439.90 65.00h5.2M439.90 71.30h5.2M456.20 76.70V83.00M453.60 76.70h5.2M453.60 83.00h5.2M474.40 94.00V106.80M471.80 94.00h5.2M471.80 106.80h5.2M506.10 122.60V127.40M503.50 122.60h5.2M503.50 127.40h5.2" stroke="#ff00ff" stroke-width="1.6" fill="none"/>
<path d="M538.10 149.70L540.20 153.00L538.10 156.30L536.00 153.00Z" fill="#000"/>
<path d="M497.60 11.30L499.70 14.60L497.60 17.90L495.50 14.60Z" fill="#000"/>
<path d="M490.1 25H505.1" stroke="#ff00ff" stroke-width="1.8"/><path d="M497.6 21.2V28.8M495.1 21.2h5M495.1 28.8h5" stroke="#ff00ff" stroke-width="1.3" fill="none"/>
<text x="510.4" y="27.60" font-size="7.3" fill="#1a1a1a">WCF <tspan font-style="italic">κ</tspan></text>
<path d="M490.1 36.2H505.1" stroke="#000000" stroke-width="1.8"/><path d="M497.6 32.400000000000006V40.0M495.1 32.400000000000006h5M495.1 40.0h5" stroke="#000000" stroke-width="1.3" fill="none"/>
<text x="510.4" y="38.80" font-size="7.3" fill="#1a1a1a">WCF <tspan font-family="Liberation Serif" font-weight="bold" font-style="italic">S</tspan>/<tspan font-style="italic">ℓ</tspan><tspan dy="-2.6" font-size="5">2</tspan></text>
<path d="M490.1 46.9H505.1" stroke="#008000" stroke-width="1.8"/><path d="M497.6 43.1V50.699999999999996M495.1 43.1h5M495.1 50.699999999999996h5" stroke="#008000" stroke-width="1.3" fill="none"/>
<text x="510.4" y="49.50" font-size="7.3" fill="#1a1a1a">GCF <tspan font-style="italic">κ</tspan></text>
<path d="M490.1 57.4H505.1" stroke="#808080" stroke-width="1.8"/><path d="M497.6 53.6V61.199999999999996M495.1 53.6h5M495.1 61.199999999999996h5" stroke="#808080" stroke-width="1.3" fill="none"/>
<text x="510.4" y="60.00" font-size="7.3" fill="#1a1a1a">GCF <tspan font-family="Liberation Serif" font-weight="bold" font-style="italic">S</tspan>/<tspan font-style="italic">ℓ</tspan><tspan dy="-2.6" font-size="5">2</tspan></text>
<text x="510.4" y="17.2" font-size="7.3" fill="#1a1a1a">AQS</text>
<text transform="translate(432.30 182.40) scale(1.13 1)" font-size="12.5" text-anchor="middle" stroke="#000" stroke-width="0.2" ><tspan font-style="italic">ξ</tspan></text>
<text transform="translate(290.50 83.00) rotate(-90) scale(1.13 1)" font-size="11" text-anchor="middle" ><tspan font-style="italic">κ</tspan>, <tspan font-family="Liberation Serif" font-weight="bold" font-style="italic">S</tspan>/<tspan font-style="italic">ℓ</tspan><tspan dy="-4" font-size="7.5">2</tspan></text>
<clipPath id="cd"><rect x="315.6" y="193.45" width="233.10000000000002" height="154.85000000000002"/></clipPath><g clip-path="url(#cd)">
<path d="M315.7 348.3L316.9 345.6L318.2 342.9L319.4 340.3L320.7 337.7L321.9 335.3L323.2 332.7L324.4 330.2L325.7 327.5L326.9 325.0L328.2 321.4L329.4 319.3L330.7 314.9L331.9 312.0L333.2 308.9L334.4 307.4L335.7 305.2L336.9 304.7L338.2 302.3L339.4 300.2L340.7 298.7L341.9 295.5L343.2 293.5L344.4 292.5L345.7 292.4L346.9 289.9L348.2 289.0L349.4 287.1L350.7 285.7L351.9 285.0L353.2 284.2L354.4 282.6L355.7 281.3L356.9 279.7L358.2 277.1L359.4 278.6L360.7 276.7L361.9 277.5L363.2 276.9L364.4 274.1L365.7 273.2L366.9 273.2L368.2 272.9L369.4 270.6L370.7 271.1L371.9 270.6L373.2 269.1L374.4 268.3L375.7 267.0L376.9 268.5L378.2 267.1L379.4 266.9L380.7 266.1L381.9 264.4L383.2 265.9L384.4 263.7L385.7 261.6L386.9 260.3L388.2 259.2L389.4 260.1L390.7 258.9L391.9 255.8L393.2 257.0L394.4 256.8L395.7 258.2L396.9 258.5L398.2 258.3L399.4 257.6L400.7 257.2L401.9 257.3L403.2 255.0L404.4 255.1L405.7 255.1L406.9 253.0L408.2 254.4L409.4 253.4L410.7 252.4L411.9 252.7L413.2 252.1L414.4 250.0L415.7 250.4L416.9 248.6L418.2 249.2L419.4 246.6L420.7 244.6L421.9 245.7L423.2 243.9L424.4 243.9L425.7 242.5L426.9 243.0L428.2 241.9L429.4 243.9L430.7 244.3L431.9 245.2L433.2 246.8L434.4 247.7L435.7 247.2L436.9 246.2L438.2 248.6L439.4 246.3L440.7 246.6L441.9 246.1L443.2 248.6L444.4 246.2L445.7 247.4L446.9 245.7L448.2 245.9L449.4 244.4L450.7 245.0L451.9 244.5L453.2 242.7L454.4 243.8L455.7 242.3L456.9 242.7L458.2 242.2L459.4 241.1L460.7 240.0L461.9 239.8L463.2 240.8L464.4 240.1L465.7 239.9L466.9 236.8L468.2 238.2L469.4 237.9L470.7 235.0L471.9 235.9L473.2 236.4L474.4 236.9L475.7 235.4L476.9 237.1L478.2 238.1L479.4 236.6L480.7 233.8L481.9 234.9L483.2 234.0L484.4 234.0L485.7 233.6L486.9 233.5L488.2 232.5L489.4 232.8L490.7 232.1L491.9 231.3L493.2 230.9L494.4 229.3L495.7 228.7L496.9 229.0L498.2 228.8L499.4 226.5L500.7 226.4L500.7 228.6" stroke="#ff0000" stroke-width="1.75" fill="none" stroke-linejoin="round" stroke-linecap="butt" />
<path d="M315.7 348.3L316.9 345.2L318.2 342.1L319.4 338.9L320.7 335.9L321.9 332.9L323.2 329.8L324.4 327.3L325.7 324.3L326.9 321.4L328.2 318.3L329.4 315.0L330.7 312.6L331.9 308.7L333.2 306.0L334.4 303.3L335.7 300.1L336.9 297.8L338.2 294.5L339.4 293.3L340.7 291.9L341.9 289.9L343.2 287.8L344.4 286.7L345.7 283.3L346.9 280.7L348.2 277.6L349.4 276.4L350.7 272.9L351.9 273.1L353.2 272.8L354.4 272.5L355.7 271.3L356.9 268.7L358.2 267.8L359.4 267.8L360.7 265.2L361.9 264.6L363.2 263.3L364.4 262.8L365.7 261.1L366.9 257.7L368.2 256.3L369.4 255.7L370.7 255.9L371.9 254.3L373.2 255.3L374.4 253.0L375.7 253.1L376.9 251.1L378.2 247.8L379.4 246.8L380.7 245.7L381.9 245.8L383.2 243.1L384.4 242.9L385.7 241.8L386.9 240.8L388.2 241.0L389.4 240.5L390.7 240.2L391.9 238.7L393.2 236.1L394.4 235.3L395.7 233.9L396.9 235.2L398.2 234.9L399.4 233.7L400.7 233.6L401.9 233.6L403.2 236.3L404.4 234.7L405.7 234.2L406.9 232.7L408.2 233.5L409.4 235.6L410.7 236.3L411.9 235.2L413.2 234.3L414.4 233.3L415.7 235.4L416.9 234.7L418.2 230.9L419.4 231.2L420.7 230.5L421.9 229.3L423.2 229.5L424.4 229.6L425.7 228.7L426.9 228.1L428.2 226.2L429.4 224.4L430.7 224.8L431.9 225.2L433.2 222.4L434.4 222.5L435.7 219.8L436.9 220.5L438.2 219.7L439.4 219.2L440.7 219.2L441.9 217.3L443.2 218.7L444.4 219.0L445.7 218.7L446.9 218.4L448.2 217.7L449.4 218.2L450.7 217.2L451.9 218.9L453.2 218.9L454.4 219.8L455.7 220.6L456.9 220.7L458.2 221.4L459.4 221.7L460.7 221.5L461.9 220.4L463.2 222.0L464.4 221.3L465.7 221.8L466.9 222.0L468.2 219.4L469.4 218.8L470.7 218.1L471.9 216.4L473.2 217.4L474.4 217.1L475.7 216.5L476.9 216.9L478.2 216.6L479.4 215.7L480.7 217.4L481.9 214.7L482.0 213.7" stroke="#bf0040" stroke-width="1.75" fill="none" stroke-linejoin="round" stroke-linecap="butt" />
<path d="M315.7 348.3L316.9 345.2L318.2 342.0L319.4 338.9L320.7 335.9L321.9 332.6L323.2 329.7L324.4 326.9L325.7 324.5L326.9 321.1L328.2 318.2L329.4 315.4L330.7 312.6L331.9 308.6L333.2 306.0L334.4 303.3L335.7 299.6L336.9 296.9L338.2 294.5L339.4 293.3L340.7 290.1L341.9 287.8L343.2 284.7L344.4 283.7L345.7 281.2L346.9 278.8L348.2 277.4L349.4 276.1L350.7 272.4L351.9 271.4L353.2 272.1L354.4 270.6L355.7 269.5L356.9 270.5L358.2 269.0L359.4 268.7L360.7 266.5L361.9 264.0L363.2 262.9L364.4 261.8L365.7 259.9L366.9 257.8L368.2 256.5L369.4 254.8L370.7 253.1L371.9 253.2L373.2 252.5L374.4 251.8L375.7 249.9L376.9 248.7L378.2 247.3L379.4 247.9L380.7 247.0L381.9 246.9L383.2 247.9L384.4 248.0L385.7 248.1L386.9 244.8L388.2 243.5L389.4 243.3L390.7 243.4L391.9 242.6L393.2 243.0L394.4 244.5L395.7 243.5L396.9 241.3L398.2 241.9L399.4 242.4L400.7 242.2L401.9 242.4L403.2 242.7L404.4 242.6L405.7 242.0L406.9 241.8L408.2 240.3L409.4 240.7L410.7 239.1L411.9 237.7L413.2 238.7L414.4 237.6L415.7 238.5L416.9 239.3L418.2 239.6L419.4 237.4L420.7 237.1L421.9 238.4L423.2 237.5L424.4 236.3L425.7 234.5L426.9 234.3L428.2 233.3L429.4 234.3L430.7 233.2L431.9 231.8L433.2 233.0L434.4 232.2L435.7 229.8L436.9 228.9L438.2 227.8L439.4 229.1L440.7 228.6L441.9 228.1L443.2 227.2L444.4 226.9L445.7 226.9L446.9 224.7L448.2 223.7L449.4 224.5L450.7 224.8L451.9 224.2L453.2 224.5L454.4 222.5L455.7 223.2L456.9 222.9L458.2 220.3L459.4 219.4L460.7 219.7L461.9 216.1L463.2 214.9L464.4 215.8L465.7 216.6L466.9 218.3L468.2 218.8L469.4 219.6L470.7 219.0L471.9 218.1L473.2 219.2L474.4 219.4L475.7 218.4L476.9 217.8L478.2 217.5L479.4 215.5L480.7 213.2L481.9 213.5L483.2 212.2L484.4 211.8L485.7 213.6L486.7 212.7" stroke="#800080" stroke-width="1.75" fill="none" stroke-linejoin="round" stroke-linecap="butt" />
<path d="M315.7 348.3L316.9 345.6L318.2 342.9L319.4 340.3L320.7 337.6L321.9 334.8L323.2 332.3L324.4 329.7L325.7 327.2L326.9 324.8L328.2 322.3L329.4 318.6L330.7 315.6L331.9 311.5L333.2 309.0L334.4 305.7L335.7 303.9L336.9 302.9L338.2 302.5L339.4 300.2L340.7 298.2L341.9 297.2L343.2 296.1L344.4 294.4L345.7 292.7L346.9 290.8L348.2 290.9L349.4 290.8L350.7 287.2L351.9 285.6L353.2 283.5L354.4 282.2L355.7 279.9L356.9 279.9L358.2 280.0L359.4 278.7L360.7 276.7L361.9 276.6L363.2 273.7L364.4 273.0L365.7 272.0L366.9 269.9L368.2 268.1L369.4 266.0L370.7 266.6L371.9 266.0L373.2 264.9L374.4 262.6L375.7 263.6L376.9 263.1L378.2 261.5L379.4 262.4L380.7 260.2L381.9 258.8L383.2 257.5L384.4 255.5L385.7 255.3L386.9 252.9L388.2 251.6L389.4 251.4L390.7 253.2L391.9 252.3L393.2 250.3L394.4 250.3L395.7 249.8L396.9 249.6L398.2 248.3L399.4 248.4L400.7 251.7L401.9 250.5L403.2 250.9L404.4 250.9L405.7 250.7L406.9 249.2L408.2 249.3L409.4 246.9L410.7 245.1L411.9 244.0L413.2 244.6L414.4 241.9L415.7 240.1L416.9 241.6L418.2 241.9L419.4 240.2L420.7 240.8L421.9 240.5L423.2 240.3L424.4 239.4L425.7 240.4L426.9 240.3L428.2 239.3L429.4 240.1L430.7 239.4L431.9 237.9L433.2 237.6L434.4 237.5L435.7 237.6L436.9 238.5L438.2 238.3L439.4 235.7L440.7 234.1L441.9 233.4L443.2 234.8L444.4 234.6L445.7 236.6L446.9 236.6L448.2 238.3L449.4 238.8L450.7 238.8L451.9 239.4L453.2 237.7L454.4 238.6L455.7 237.3L456.9 238.0L458.2 238.0L459.4 237.9L460.7 237.0L461.9 237.4L463.2 236.3L464.4 236.8L465.7 234.2L466.9 234.5L468.2 235.1L469.4 234.9L470.7 232.7L471.9 231.7L473.2 231.0L474.4 231.9L475.7 231.3L476.9 230.0L478.2 230.8L479.4 228.3L480.7 227.6L481.9 227.6L483.2 228.1L484.4 227.7L485.7 227.1L486.9 226.1L488.2 228.3L489.4 228.6L490.7 229.3L491.9 228.7L493.2 228.8L494.4 227.3L495.7 226.9L496.9 228.4L498.2 229.8L498.3 228.6" stroke="#4000bf" stroke-width="1.75" fill="none" stroke-linejoin="round" stroke-linecap="butt" />
<path d="M315.7 348.3L316.9 345.6L318.2 342.9L319.4 340.3L320.7 337.8L321.9 335.2L323.2 332.5L324.4 329.8L325.7 327.3L326.9 324.2L328.2 321.5L329.4 317.4L330.7 314.1L331.9 310.7L333.2 306.5L334.4 304.4L335.7 301.7L336.9 299.4L338.2 296.7L339.4 293.4L340.7 291.2L341.9 290.5L343.2 290.0L344.4 288.3L345.7 286.8L346.9 284.4L348.2 282.9L349.4 281.0L350.7 280.7L351.9 277.3L353.2 275.0L354.4 272.8L355.7 271.5L356.9 270.4L358.2 269.2L359.4 266.4L360.7 265.3L361.9 264.7L363.2 263.0L364.4 263.3L365.7 260.2L366.9 259.1L368.2 256.4L369.4 255.1L370.7 257.2L371.9 257.4L373.2 256.8L374.4 256.8L375.7 256.6L376.9 255.6L378.2 255.5L379.4 253.8L380.7 252.3L381.9 252.4L383.2 252.8L384.4 250.2L385.7 247.2L386.9 246.3L388.2 246.5L389.4 244.8L390.7 245.8L391.9 244.8L393.2 242.7L394.4 242.9L395.7 241.1L396.9 241.7L398.2 241.7L399.4 242.4L400.7 241.9L401.9 241.2L403.2 242.9L404.4 244.5L405.7 242.9L406.9 242.0L408.2 242.7L409.4 242.0L410.7 240.4L411.9 240.7L413.2 241.0L414.4 241.1L415.7 240.7L416.9 241.2L418.2 239.6L419.4 238.1L420.7 237.9L421.9 235.8L423.2 235.2L424.4 234.7L425.7 234.0L426.9 233.2L428.2 232.8L429.4 231.6L430.7 230.8L431.9 231.4L433.2 231.1L434.4 230.8L435.7 228.8L436.9 227.5L438.2 224.7L439.4 225.8L440.7 225.6L441.9 223.7L443.2 223.8L444.4 222.8L445.7 222.2L446.9 221.9L448.2 220.3L449.4 222.2L450.7 222.5L451.9 222.4L453.2 223.7L454.4 223.1L455.7 222.6L456.9 222.5L458.2 223.0L459.4 223.3L460.7 222.8L461.9 224.1L463.2 222.4L464.4 223.0L465.7 222.5L466.9 223.6L468.2 225.2L469.4 224.2L470.7 223.2L471.9 222.2L473.2 223.1L474.4 222.3L475.7 221.8L476.9 220.2L478.2 220.2L479.4 220.7L480.7 220.6L481.9 220.8L483.2 219.2L484.4 219.0L485.7 216.6L486.9 217.9L488.2 219.7L489.4 217.2L490.7 217.4L491.9 218.4L493.2 218.1L494.4 217.5L495.7 216.4L496.9 215.1L498.2 216.6L499.4 217.5L500.7 216.9L501.9 216.9L503.2 216.3L504.4 217.3L505.7 215.4L506.9 214.4L508.2 214.4L509.4 213.9L510.7 219.9L511.9 220.8L513.2 219.9L514.5 218.2L515.7 217.6L517.0 215.2L518.2 214.6L519.5 211.8L520.7 211.9L522.0 209.8L523.2 210.8L524.5 211.2L525.7 212.7L527.0 213.0L528.2 213.4L529.5 216.2L530.7 218.6L532.0 220.6L533.2 215.3L534.5 216.5L535.6 219.3" stroke="#0000ff" stroke-width="1.75" fill="none" stroke-linejoin="round" stroke-linecap="butt" />
<path d="M315.7 348.3L316.9 345.4L318.2 342.5L319.4 339.6L320.7 336.7L321.9 333.8L323.2 330.9L324.4 328.1L325.7 325.2L326.9 322.5L328.2 320.0L329.4 317.0L330.7 313.5L331.9 310.8L333.2 307.5L334.4 304.5L335.7 302.1L336.9 300.0L338.2 296.9L339.4 293.9L340.7 291.4L341.9 289.8L343.2 289.1L344.4 288.1L345.7 287.4L346.9 285.6L348.2 284.0L349.4 281.4L350.7 280.6L351.9 280.1L353.2 279.2L354.4 278.1L355.7 276.7L356.9 274.7L358.2 274.0L359.4 272.6L360.7 272.4L361.9 272.3L363.2 270.3L364.4 268.7L365.7 268.1L366.9 267.1L368.2 266.4L369.4 265.4L370.7 265.2L371.9 262.1L373.2 263.2L374.4 262.4L375.7 260.0L376.9 259.2L378.2 258.8L379.4 259.1L380.7 257.4L381.9 258.2L383.2 257.1L384.4 256.2L385.7 255.8L386.9 255.5L388.2 254.2L388.2 253.6" stroke="#000000" stroke-width="1.75" fill="none" stroke-linejoin="round" stroke-linecap="butt" />
</g>
<rect x="485.9" y="266.4" width="58.70" height="77.20" rx="2" ry="2" fill="#fff" stroke="#3a3a3a" stroke-width="1.0"/>
<path d="M489.4 273.20H506.6" stroke="#ff0000" stroke-width="1.8"/>
<text x="513" y="276.20" font-size="8.5" fill="#1a1a1a" stroke="#1a1a1a" stroke-width="0.15" textLength="19.7" lengthAdjust="spacing"><tspan font-style="italic">ξ</tspan> = 1</text>
<path d="M489.4 285.75H506.6" stroke="#bf0040" stroke-width="1.8"/>
<text x="513" y="288.75" font-size="8.5" fill="#1a1a1a" stroke="#1a1a1a" stroke-width="0.15" textLength="27.8" lengthAdjust="spacing"><tspan font-style="italic">ξ</tspan> = 3.5</text>
<path d="M489.4 298.30H506.6" stroke="#800080" stroke-width="1.8"/>
<text x="513" y="301.30" font-size="8.5" fill="#1a1a1a" stroke="#1a1a1a" stroke-width="0.15" textLength="27.8" lengthAdjust="spacing"><tspan font-style="italic">ξ</tspan> = 5.5</text>
<path d="M489.4 310.85H506.6" stroke="#4000bf" stroke-width="1.8"/>
<text x="513" y="313.85" font-size="8.5" fill="#1a1a1a" stroke="#1a1a1a" stroke-width="0.15" textLength="27.8" lengthAdjust="spacing"><tspan font-style="italic">ξ</tspan> = 7.5</text>
<path d="M489.4 323.40H506.6" stroke="#0000ff" stroke-width="1.8"/>
<text x="513" y="326.40" font-size="8.5" fill="#1a1a1a" stroke="#1a1a1a" stroke-width="0.15" textLength="27.8" lengthAdjust="spacing"><tspan font-style="italic">ξ</tspan> = 9.5</text>
<path d="M489.4 335.95H506.6" stroke="#000000" stroke-width="1.8"/>
<text x="513" y="338.95" font-size="8.5" fill="#1a1a1a" stroke="#1a1a1a" stroke-width="0.15" textLength="17.2" lengthAdjust="spacing">AQS</text>
<text transform="translate(316.6 192.6) scale(1.13 1)" font-size="11.4">×10<tspan dy="-4.3" font-size="8">−4</tspan></text>
<g transform="translate(302.80 270.70) rotate(-90)"><path d="M-32.68 -7.30q1.15 -1.7 2.30 -0.5t2.30 -0.5" stroke="#000" stroke-width="0.8" fill="none" stroke-linecap="round"/><text transform="translate(-35.10 0.00) scale(1.13 1)" font-size="11.5" font-style="italic" stroke="#000" stroke-width="0.22">σ</text><text transform="translate(-27.60 1.60) scale(1.13 1)" font-size="7.2" font-style="italic" stroke="#000" stroke-width="0.22">avg</text><text transform="translate(-13.70 0.00) scale(1.13 1)" font-size="11.5" stroke="#000" stroke-width="0.22">/</text><text transform="translate(-3.00 0.00) scale(1.13 1)" font-size="11.5" font-style="italic" stroke="#000" stroke-width="0.22">κ</text><text transform="translate(4.60 0.00) scale(1.13 1)" font-size="11.5" stroke="#000" stroke-width="0.22">,</text><text transform="translate(13.00 0.00) scale(1.13 1)" font-size="11.5" font-style="italic" stroke="#000" stroke-width="0.22">σ</text><text transform="translate(19.80 1.60) scale(1.13 1)" font-size="7.2" font-style="italic" stroke="#000" stroke-width="0.22">avg</text><path d="M-9.60 -3.70L-8.20 -4.50L-6.10 0.40L-3.20 -10.90H4.40" stroke="#000" stroke-width="0.85" fill="none" stroke-linejoin="miter"/></g>
<g transform="translate(415.40 371.10)"><path d="M1.75 -7.30q1.15 -1.7 2.30 -0.5t2.30 -0.5" stroke="#000" stroke-width="0.8" fill="none" stroke-linecap="round"/><text transform="translate(0.00 0.00) scale(1.13 1)" font-size="11.5" font-style="italic" stroke="#000" stroke-width="0.22">γ</text><text transform="translate(13.60 0.00) scale(1.13 1)" font-size="11.5" font-style="italic" stroke="#000" stroke-width="0.22">κ</text><text transform="translate(21.70 0.00) scale(1.13 1)" font-size="11.5" stroke="#000" stroke-width="0.22">,</text><text transform="translate(28.70 0.00) scale(1.13 1)" font-size="11.5" font-style="italic" stroke="#000" stroke-width="0.22">γ</text><path d="M6.40 -3.70L7.80 -4.50L9.90 0.40L12.80 -8.40H21.50" stroke="#000" stroke-width="0.85" fill="none" stroke-linejoin="miter"/></g>
<path d="M606.3 49.8L620.7 25.4L649.3 25.7L662.7 24.8L678.2 30.6L690.0 31.7L704.9 30.8L719.7 37.9L733.7 45.8L746.9 46.7L761.6 56.6L776.2 70.6L790.4 78.2L804.3 104.9L819.0 119.4" stroke="#ff0000" stroke-width="1.8" fill="none" stroke-linejoin="round" stroke-linecap="butt" />
<path d="M606.2 19.6L620.2 20.1L634.7 19.6L649.3 21.2L662.7 23.5L678.2 29.8L692.0 31.5L705.9 35.0L719.7 39.9L733.7 48.7L748.4 59.3L762.8 68.0L776.2 84.6L790.4 95.0L804.3 127.3" stroke="#bf0040" stroke-width="1.8" fill="none" stroke-linejoin="round" stroke-linecap="butt" />
<path d="M606.2 19.0L620.2 15.6L634.7 18.4L649.3 19.6L662.7 23.3L678.2 29.0L692.0 34.5L705.9 37.0L719.7 42.9L733.7 52.6L748.4 61.7L762.8 85.5L776.2 84.4L790.4 100.0L804.3 133.6" stroke="#800080" stroke-width="1.8" fill="none" stroke-linejoin="round" stroke-linecap="butt" />
<path d="M606.2 14.9L620.2 15.6L634.7 17.9L649.3 20.3L662.7 23.8L681.4 28.5L692.0 33.8L705.9 38.5L719.7 45.8L733.7 55.5L748.4 61.5L762.8 84.8L776.2 96.0" stroke="#4000bf" stroke-width="1.8" fill="none" stroke-linejoin="round" stroke-linecap="butt" />
<path d="M606.2 11.9L634.7 16.8L649.3 22.9L662.7 21.6L681.4 29.6L696.4 34.9L719.7 49.6L733.7 59.0L748.4 61.0L762.8 83.8L776.2 111.2L790.4 107.2" stroke="#0000ff" stroke-width="1.8" fill="none" stroke-linejoin="round" stroke-linecap="butt" />
<path d="M620.2 11.4L649.3 12.3L678.2 26.4L691.0 25.7L705.9 36.1L719.7 29.7L733.7 61.9L748.4 53.4L761.6 56.4L776.4 74.6L790.4 111.0L804.3 113.7" stroke="#000000" stroke-width="1.8" fill="none" stroke-linejoin="round" stroke-linecap="butt" />
<rect x="630.8" y="71.3" width="90.10" height="59.50" fill="#fff"/>
<path d="M634.1 73.6L646.5 79.9L650.7 83.6L654.0 81.9L657.3 89.5L660.1 86.5L662.3 92.3L666.1 99.0L670.5 111.4L673.9 118.0L676.3 123.0" stroke="#ff0000" stroke-width="1.8" fill="none" stroke-linejoin="round" stroke-linecap="butt" />
<path d="M634.1 76.0L646.5 81.5L650.7 84.5L654.0 82.8L657.3 89.5L660.1 86.0L662.3 90.0L666.0 91.5L669.7 93.5L674.7 101.5L678.8 108.0L679.8 112.2L682.1 127.6" stroke="#bf0040" stroke-width="1.8" fill="none" stroke-linejoin="round" stroke-linecap="butt" />
<path d="M634.1 77.5L646.5 82.3L650.7 85.0L654.0 83.2L657.3 89.5L660.1 85.6L662.3 89.5L666.0 91.0L669.7 92.3L674.7 100.3L678.8 104.3L682.1 112.5L685.4 127.9" stroke="#800080" stroke-width="1.8" fill="none" stroke-linejoin="round" stroke-linecap="butt" />
<path d="M634.1 79.3L646.5 83.0L650.7 85.4L654.0 83.4L657.3 89.5L660.1 85.4L662.3 89.2L666.0 90.5L669.7 91.3L674.7 99.5L678.8 102.0L682.1 110.0L684.9 114.0L688.2 128.2" stroke="#4000bf" stroke-width="1.8" fill="none" stroke-linejoin="round" stroke-linecap="butt" />
<path d="M634.1 80.8L646.5 83.6L650.7 85.7L654.0 83.6L657.3 89.5L660.1 85.2L662.3 89.0L663.9 90.2L669.7 90.7L674.7 99.0L678.8 100.6L682.1 108.9L684.9 109.7L687.9 118.0L691.6 128.2" stroke="#0000ff" stroke-width="1.8" fill="none" stroke-linejoin="round" stroke-linecap="butt" />
<path d="M681.3 91.8L685.4 91.2L692.1 96.5L694.5 94.0L697.8 101.4L701.2 100.6L704.5 110.5L707.4 104.7L711.1 116.3L714.1 127.6L716.9 128.7" stroke="#000000" stroke-width="1.8" fill="none" stroke-linejoin="round" stroke-linecap="butt" />
<rect x="630.8" y="71.3" width="90.10" height="59.50" fill="none" stroke="#303030" stroke-width="0.9"/>
<path d="M661.40 130.8v-2M661.40 71.3v2M702.30 130.8v-2M702.30 71.3v2M630.8 83.60h2M720.9 83.60h-2M630.8 97.70h2M720.9 97.70h-2M630.8 111.80h2M720.9 111.80h-2M630.8 126.10h2M720.9 126.10h-2" stroke="#000" stroke-width="0.7" fill="none"/>
<text transform="translate(629.60 86.90) scale(1.13 1)" font-size="8.7" text-anchor="end" stroke="#000" stroke-width="0.2" >10<tspan dy="-3.91" font-size="6.26">3</tspan></text>
<text transform="translate(629.60 101.00) scale(1.13 1)" font-size="8.7" text-anchor="end" stroke="#000" stroke-width="0.2" >10<tspan dy="-3.91" font-size="6.26">2</tspan></text>
<text transform="translate(629.60 115.10) scale(1.13 1)" font-size="8.7" text-anchor="end" stroke="#000" stroke-width="0.2" >10<tspan dy="-3.91" font-size="6.26">1</tspan></text>
<text transform="translate(629.60 129.40) scale(1.13 1)" font-size="8.7" text-anchor="end" stroke="#000" stroke-width="0.2" >10<tspan dy="-3.91" font-size="6.26">0</tspan></text>
<text transform="translate(661.40 139.60) scale(1.13 1)" font-size="8.7" text-anchor="middle" stroke="#000" stroke-width="0.2" >10<tspan dy="-3.91" font-size="6.26">−3</tspan></text>
<text transform="translate(702.30 139.60) scale(1.13 1)" font-size="8.7" text-anchor="middle" stroke="#000" stroke-width="0.2" >10<tspan dy="-3.91" font-size="6.26">−2</tspan></text>
<g transform="translate(676.50 149.30)"><text transform="translate(-13.56 0.00) scale(1.13 1)" font-size="8.3" fill="#000" stroke="#000" stroke-width="0.22">Δ</text><text transform="translate(-7.29 0.00) scale(1.13 1)" font-size="8.3" font-style="italic" fill="#000" stroke="#000" stroke-width="0.22">γ</text><path d="M-6.11 -5.60q0.87 -1.7 1.74 -0.5t1.74 -0.5" stroke="#000" stroke-width="0.8" fill="none" stroke-linecap="round"/><text transform="translate(-2.60 0.00) scale(1.13 1)" font-size="8.3" fill="#000" stroke="#000" stroke-width="0.22">,</text><text transform="translate(2.60 0.00) scale(1.13 1)" font-size="8.3" fill="#000" stroke="#000" stroke-width="0.22">Δ</text><text transform="translate(8.87 0.00) scale(1.13 1)" font-size="8.3" font-style="italic" fill="#000" stroke="#000" stroke-width="0.22">γ</text></g>
<g transform="translate(610.50 102.00) rotate(-90)"><text transform="translate(-24.27 0.00) scale(1.13 1)" font-size="7.7" font-style="italic" fill="#000" stroke="#000" stroke-width="0.22">P</text><text transform="translate(-18.47 0.00) scale(1.13 1)" font-size="7.7" fill="#000" stroke="#000" stroke-width="0.22">(</text><text transform="translate(-15.57 0.00) scale(1.13 1)" font-size="7.7" fill="#000" stroke="#000" stroke-width="0.22">Δ</text><text transform="translate(-9.76 0.00) scale(1.13 1)" font-size="7.7" font-style="italic" fill="#000" stroke="#000" stroke-width="0.22">γ</text><path d="M-8.66 -5.28q0.81 -1.7 1.62 -0.5t1.62 -0.5" stroke="#000" stroke-width="0.8" fill="none" stroke-linecap="round"/><text transform="translate(-5.41 0.00) scale(1.13 1)" font-size="7.7" fill="#000" stroke="#000" stroke-width="0.22">)</text><text transform="translate(-2.51 0.00) scale(1.13 1)" font-size="7.7" fill="#000" stroke="#000" stroke-width="0.22">,</text><text transform="translate(2.51 0.00) scale(1.13 1)" font-size="7.7" font-style="italic" fill="#000" stroke="#000" stroke-width="0.22">P</text><text transform="translate(8.31 0.00) scale(1.13 1)" font-size="7.7" fill="#000" stroke="#000" stroke-width="0.22">(</text><text transform="translate(11.21 0.00) scale(1.13 1)" font-size="7.7" fill="#000" stroke="#000" stroke-width="0.22">Δ</text><text transform="translate(17.02 0.00) scale(1.13 1)" font-size="7.7" font-style="italic" fill="#000" stroke="#000" stroke-width="0.22">γ</text><text transform="translate(21.37 0.00) scale(1.13 1)" font-size="7.7" fill="#000" stroke="#000" stroke-width="0.22">)</text></g>
<g transform="translate(0.00 185.20)"><text transform="translate(677.00 0.00) scale(1.13 1)" font-size="11.1" font-style="italic" stroke="#000" stroke-width="0.22">N</text><text transform="translate(687.00 0.00) scale(1.13 1)" font-size="11.1" stroke="#000" stroke-width="0.22">Δ</text><path d="M696.31 -7.08q1.15 -1.7 2.30 -0.5t2.30 -0.5" stroke="#000" stroke-width="0.8" fill="none" stroke-linecap="round"/><text transform="translate(694.70 0.00) scale(1.13 1)" font-size="11.1" font-style="italic" stroke="#000" stroke-width="0.22">γ</text><text transform="translate(709.30 0.00) scale(1.13 1)" font-size="11.1" font-style="italic" stroke="#000" stroke-width="0.22">κ</text><text transform="translate(718.00 0.00) scale(1.13 1)" font-size="11.1" stroke="#000" stroke-width="0.22">,</text><text transform="translate(732.00 0.00) scale(1.13 1)" font-size="11.1" font-style="italic" stroke="#000" stroke-width="0.22">N</text><text transform="translate(741.40 0.00) scale(1.13 1)" font-size="11.1" stroke="#000" stroke-width="0.22">Δ</text><text transform="translate(750.00 0.00) scale(1.13 1)" font-size="11.1" font-style="italic" stroke="#000" stroke-width="0.22">γ</text><path d="M669.90 -3.70L671.30 -4.50L673.40 0.40L676.30 -10.80H686.50" stroke="#000" stroke-width="0.85" fill="none" stroke-linejoin="miter"/><path d="M701.60 -3.70L703.00 -4.50L705.10 0.40L708.00 -8.00H717.50" stroke="#000" stroke-width="0.85" fill="none" stroke-linejoin="miter"/><path d="M724.30 -3.70L725.70 -4.50L727.80 0.40L730.70 -10.80H741.00" stroke="#000" stroke-width="0.85" fill="none" stroke-linejoin="miter"/></g>
<g transform="translate(565.20 82.00) rotate(-90)"><text transform="translate(-57.90 0.00) scale(1.13 1)" font-size="11.1" font-style="italic" stroke="#000" stroke-width="0.22">P</text><text transform="translate(-51.30 0.00) scale(1.13 1)" font-size="11.1" stroke="#000" stroke-width="0.22">(</text><text transform="translate(-41.30 0.00) scale(1.13 1)" font-size="11.1" font-style="italic" stroke="#000" stroke-width="0.22">N</text><text transform="translate(-33.00 0.00) scale(1.13 1)" font-size="11.1" stroke="#000" stroke-width="0.22">Δ</text><path d="M-23.39 -7.08q1.15 -1.7 2.30 -0.5t2.30 -0.5" stroke="#000" stroke-width="0.8" fill="none" stroke-linecap="round"/><text transform="translate(-25.00 0.00) scale(1.13 1)" font-size="11.1" font-style="italic" stroke="#000" stroke-width="0.22">γ</text><text transform="translate(-11.60 0.00) scale(1.13 1)" font-size="11.1" font-style="italic" stroke="#000" stroke-width="0.22">κ</text><text transform="translate(-4.50 0.00) scale(1.13 1)" font-size="11.1" stroke="#000" stroke-width="0.22">)</text><text transform="translate(0.80 0.00) scale(1.13 1)" font-size="11.1" stroke="#000" stroke-width="0.22">,</text><text transform="translate(10.30 0.00) scale(1.13 1)" font-size="11.1" font-style="italic" stroke="#000" stroke-width="0.22">P</text><text transform="translate(17.20 0.00) scale(1.13 1)" font-size="11.1" stroke="#000" stroke-width="0.22">(</text><text transform="translate(28.20 0.00) scale(1.13 1)" font-size="11.1" font-style="italic" stroke="#000" stroke-width="0.22">N</text><text transform="translate(37.50 0.00) scale(1.13 1)" font-size="11.1" stroke="#000" stroke-width="0.22">Δ</text><text transform="translate(45.00 0.00) scale(1.13 1)" font-size="11.1" font-style="italic" stroke="#000" stroke-width="0.22">γ</text><text transform="translate(52.00 0.00) scale(1.13 1)" font-size="11.1" stroke="#000" stroke-width="0.22">)</text><path d="M-47.60 -3.70L-46.20 -4.50L-44.10 0.40L-41.20 -10.90H-32.80" stroke="#000" stroke-width="0.85" fill="none" stroke-linejoin="miter"/><path d="M-18.50 -3.70L-17.10 -4.50L-15.00 0.40L-12.10 -8.00H-4.30" stroke="#000" stroke-width="0.85" fill="none" stroke-linejoin="miter"/><path d="M21.40 -3.70L22.80 -4.50L24.90 0.40L27.80 -10.90H37.70" stroke="#000" stroke-width="0.85" fill="none" stroke-linejoin="miter"/></g>
<path d="M607.1 199.4L816.7 262.68" stroke="#3a3a3a" stroke-width="0.8" stroke-dasharray="6 4.9" fill="none"/>
<path d="M612.3 228.7L621.2 229.9L630.2 230.8L639.2 231.0L648.1 232.4L657.1 233.0L665.5 235.2L675.0 234.7L682.8 236.0L691.9 237.2L700.7 239.0L710.0 241.0L718.8 243.0L727.6 244.0L736.4 245.3L745.2 247.8L754.0 250.8L762.8 255.2L772.0 260.3L780.7 265.2L789.6 272.5L798.8 283.8L807.4 295.6" stroke="#ff0000" stroke-width="1.8" fill="none" stroke-linejoin="round" stroke-linecap="butt" />
<path d="M612.3 223.8L621.2 225.2L630.2 224.0L639.2 225.7L648.1 225.2L657.1 227.4L665.5 230.2L675.0 231.9L682.8 234.4L691.9 235.7L700.7 238.7L710.0 241.0L718.8 243.6L727.6 245.0L736.4 247.5L745.2 250.5L754.0 253.0L762.8 258.0L770.0 262.0L780.7 268.9L789.6 278.5L798.8 288.1L802.0 304.1L806.7 323.3L815.9 325.9" stroke="#bf0040" stroke-width="1.8" fill="none" stroke-linejoin="round" stroke-linecap="butt" />
<path d="M612.3 213.4L621.2 226.8L630.2 221.8L639.2 224.6L648.1 224.6L657.1 227.4L665.5 231.9L675.0 230.5L682.8 232.4L691.9 234.8L700.7 237.8L710.0 240.5L718.8 244.0L727.6 245.5L736.4 248.5L745.2 252.0L754.0 254.5L762.8 260.0L770.0 264.0L780.7 271.0L789.6 281.7L798.8 293.4L807.4 304.1L815.9 324.4" stroke="#800080" stroke-width="1.8" fill="none" stroke-linejoin="round" stroke-linecap="butt" />
<path d="M612.3 216.8L621.2 221.8L630.2 221.2L639.2 225.2L648.1 223.5L657.1 226.3L665.5 229.1L675.0 231.3L682.8 232.8L691.9 235.8L700.7 237.6L710.0 241.0L718.8 244.5L727.6 246.0L736.4 249.5L745.2 253.0L754.0 255.5L762.8 261.0L770.0 265.0L780.7 272.0L789.6 283.0L798.8 296.6L807.4 312.2" stroke="#4000bf" stroke-width="1.8" fill="none" stroke-linejoin="round" stroke-linecap="butt" />
<path d="M612.3 219.0L621.2 220.7L630.2 219.6L639.2 224.6L648.1 221.8L657.1 224.6L665.5 226.3L675.0 233.6L682.8 233.6L691.9 236.6L700.7 237.5L710.0 241.5L718.8 245.0L727.6 246.5L736.4 250.5L745.2 254.5L754.0 256.5L762.8 262.0L770.0 266.7L780.7 273.2L789.6 289.2L798.8 303.7" stroke="#0000ff" stroke-width="1.8" fill="none" stroke-linejoin="round" stroke-linecap="butt" />
<path d="M612.3 232.4L621.2 217.9L630.2 227.4L639.2 230.2L648.1 228.5L657.1 229.1L665.5 229.9L675.0 231.0L682.8 231.5L691.9 240.0L700.7 236.0L710.0 240.8L718.8 245.6L727.6 244.0L736.4 247.2L745.2 248.5L754.0 254.4L762.8 261.2L772.6 261.2L780.7 270.0L789.6 291.3L798.8 298.8L807.8 307.3" stroke="#000000" stroke-width="1.8" fill="none" stroke-linejoin="round" stroke-linecap="butt" />
<rect x="635.1" y="259.3" width="90.10" height="59.50" fill="#fff"/>
<clipPath id="cif"><rect x="635.1" y="259.3" width="90.10" height="59.50"/></clipPath><g clip-path="url(#cif)">
<path d="M638.1 273.2L646.4 271.6L650.5 277.9L655.5 275.4L661.3 276.5L666.3 278.2L672.1 277.5L682.0 279.5L691.9 282.5L700.2 286.1L706.8 290.3L711.8 296.9L716.7 307.6L720.9 317.6" stroke="#ff0000" stroke-width="1.8" fill="none" stroke-linejoin="round" stroke-linecap="butt" />
<path d="M638.1 268.5L646.4 267.5L650.5 274.0L655.5 272.5L661.3 274.0L666.3 275.5L672.1 276.5L682.0 279.5L691.9 283.5L699.4 288.6L704.3 296.1L709.3 305.2" stroke="#bf0040" stroke-width="1.8" fill="none" stroke-linejoin="round" stroke-linecap="butt" />
<path d="M638.1 267.9L646.4 267.1L650.5 272.6L655.5 271.2L661.3 273.0L666.3 274.5L672.1 276.0L682.0 279.5L688.6 283.5L694.4 287.8L701.0 295.2L705.2 303.5L709.3 315.1" stroke="#800080" stroke-width="1.8" fill="none" stroke-linejoin="round" stroke-linecap="butt" />
<path d="M638.1 263.8L646.4 264.3L650.5 271.2L655.5 269.9L661.3 271.8L666.3 273.6L672.1 275.6L682.0 279.5L688.6 284.5L694.4 290.3L697.7 295.2L701.0 300.7" stroke="#4000bf" stroke-width="1.8" fill="none" stroke-linejoin="round" stroke-linecap="butt" />
<path d="M638.1 262.6L646.4 262.1L650.5 270.4L655.5 269.3L661.3 271.2L666.3 273.2L672.1 275.4L682.0 279.5L688.6 285.3L694.4 292.8L697.7 300.2L701.0 310.6" stroke="#0000ff" stroke-width="1.8" fill="none" stroke-linejoin="round" stroke-linecap="butt" />
<path d="M638.1 262.6L643.1 262.6L650.5 265.4L654.7 268.8L658.8 267.6L664.6 270.4L669.6 275.4L674.5 277.5L682.0 296.9" stroke="#000000" stroke-width="1.8" fill="none" stroke-linejoin="round" stroke-linecap="butt" />
</g>
<rect x="635.1" y="259.3" width="90.10" height="59.50" fill="none" stroke="#303030" stroke-width="0.9"/>
<path d="M637.30 318.8v-2M637.30 259.3v2M664.60 318.8v-2M664.60 259.3v2M693.10 318.8v-2M693.10 259.3v2M721.70 318.8v-2M721.70 259.3v2M635.1 264.60h2M725.2 264.60h-2M635.1 288.10h2M725.2 288.10h-2M635.1 311.30h2M725.2 311.30h-2" stroke="#000" stroke-width="0.7" fill="none"/>
<text transform="translate(633.40 267.90) scale(1.13 1)" font-size="8.7" text-anchor="end" stroke="#000" stroke-width="0.2" >10<tspan dy="-3.91" font-size="6.26">4</tspan></text>
<text transform="translate(633.40 291.40) scale(1.13 1)" font-size="8.7" text-anchor="end" stroke="#000" stroke-width="0.2" >10<tspan dy="-3.91" font-size="6.26">2</tspan></text>
<text transform="translate(633.40 314.60) scale(1.13 1)" font-size="8.7" text-anchor="end" stroke="#000" stroke-width="0.2" >10<tspan dy="-3.91" font-size="6.26">0</tspan></text>
<text transform="translate(637.30 327.90) scale(1.13 1)" font-size="8.7" text-anchor="middle" stroke="#000" stroke-width="0.2" >10<tspan dy="-3.91" font-size="6.26">−5</tspan></text>
<text transform="translate(665.60 327.90) scale(1.13 1)" font-size="8.7" text-anchor="middle" stroke="#000" stroke-width="0.2" >10<tspan dy="-3.91" font-size="6.26">−4</tspan></text>
<text transform="translate(694.00 327.90) scale(1.13 1)" font-size="8.7" text-anchor="middle" stroke="#000" stroke-width="0.2" >10<tspan dy="-3.91" font-size="6.26">−3</tspan></text>
<text transform="translate(722.10 327.90) scale(1.13 1)" font-size="8.7" text-anchor="middle" stroke="#000" stroke-width="0.2" >10<tspan dy="-3.91" font-size="6.26">−2</tspan></text>
<g transform="translate(680.00 337.50)"><text transform="translate(-14.52 0.00) scale(1.13 1)" font-size="8.3" fill="#000" stroke="#000" stroke-width="0.22">Δ</text><text transform="translate(-8.26 0.00) scale(1.13 1)" font-size="8.3" font-style="italic" fill="#000" stroke="#000" stroke-width="0.22">σ</text><path d="M-6.59 -5.60q0.87 -1.7 1.74 -0.5t1.74 -0.5" stroke="#000" stroke-width="0.8" fill="none" stroke-linecap="round"/><text transform="translate(-2.60 0.00) scale(1.13 1)" font-size="8.3" fill="#000" stroke="#000" stroke-width="0.22">,</text><text transform="translate(2.60 0.00) scale(1.13 1)" font-size="8.3" fill="#000" stroke="#000" stroke-width="0.22">Δ</text><text transform="translate(8.87 0.00) scale(1.13 1)" font-size="8.3" font-style="italic" fill="#000" stroke="#000" stroke-width="0.22">σ</text></g>
<g transform="translate(614.60 289.40) rotate(-90)"><text transform="translate(-24.55 0.00) scale(1.13 1)" font-size="7.5" font-style="italic" fill="#000" stroke="#000" stroke-width="0.22">P</text><text transform="translate(-18.89 0.00) scale(1.13 1)" font-size="7.5" fill="#000" stroke="#000" stroke-width="0.22">(</text><text transform="translate(-16.07 0.00) scale(1.13 1)" font-size="7.5" fill="#000" stroke="#000" stroke-width="0.22">Δ</text><text transform="translate(-10.41 0.00) scale(1.13 1)" font-size="7.5" font-style="italic" fill="#000" stroke="#000" stroke-width="0.22">σ</text><path d="M-8.90 -5.17q0.79 -1.7 1.57 -0.5t1.57 -0.5" stroke="#000" stroke-width="0.8" fill="none" stroke-linecap="round"/><text transform="translate(-5.30 0.00) scale(1.13 1)" font-size="7.5" fill="#000" stroke="#000" stroke-width="0.22">)</text><text transform="translate(-2.48 0.00) scale(1.13 1)" font-size="7.5" fill="#000" stroke="#000" stroke-width="0.22">,</text><text transform="translate(2.48 0.00) scale(1.13 1)" font-size="7.5" font-style="italic" fill="#000" stroke="#000" stroke-width="0.22">P</text><text transform="translate(8.13 0.00) scale(1.13 1)" font-size="7.5" fill="#000" stroke="#000" stroke-width="0.22">(</text><text transform="translate(10.95 0.00) scale(1.13 1)" font-size="7.5" fill="#000" stroke="#000" stroke-width="0.22">Δ</text><text transform="translate(16.61 0.00) scale(1.13 1)" font-size="7.5" font-style="italic" fill="#000" stroke="#000" stroke-width="0.22">σ</text><text transform="translate(21.72 0.00) scale(1.13 1)" font-size="7.5" fill="#000" stroke="#000" stroke-width="0.22">)</text></g>
<g transform="translate(0.00 373.10)"><text transform="translate(676.40 0.00) scale(1.13 1)" font-size="11.1" font-style="italic" stroke="#000" stroke-width="0.22">N</text><text transform="translate(686.00 0.00) scale(1.13 1)" font-size="11.1" stroke="#000" stroke-width="0.22">Δ</text><path d="M696.36 -7.08q1.15 -1.7 2.30 -0.5t2.30 -0.5" stroke="#000" stroke-width="0.8" fill="none" stroke-linecap="round"/><text transform="translate(694.10 0.00) scale(1.13 1)" font-size="11.1" font-style="italic" stroke="#000" stroke-width="0.22">σ</text><text transform="translate(701.40 0.00) scale(1.13 1)" font-size="11.1" stroke="#000" stroke-width="0.22">/</text><text transform="translate(712.30 0.00) scale(1.13 1)" font-size="11.1" font-style="italic" stroke="#000" stroke-width="0.22">κ</text><text transform="translate(720.90 0.00) scale(1.13 1)" font-size="11.1" stroke="#000" stroke-width="0.22">,</text><text transform="translate(735.00 0.00) scale(1.13 1)" font-size="11.1" font-style="italic" stroke="#000" stroke-width="0.22">N</text><text transform="translate(745.00 0.00) scale(1.13 1)" font-size="11.1" stroke="#000" stroke-width="0.22">Δ</text><text transform="translate(752.70 0.00) scale(1.13 1)" font-size="11.1" font-style="italic" stroke="#000" stroke-width="0.22">σ</text><path d="M668.80 -3.70L670.20 -4.50L672.30 0.40L675.20 -10.80H685.20" stroke="#000" stroke-width="0.85" fill="none" stroke-linejoin="miter"/><path d="M704.60 -3.70L706.00 -4.50L708.10 0.40L711.00 -8.20H720.40" stroke="#000" stroke-width="0.85" fill="none" stroke-linejoin="miter"/><path d="M727.30 -3.70L728.70 -4.50L730.80 0.40L733.70 -10.80H744.20" stroke="#000" stroke-width="0.85" fill="none" stroke-linejoin="miter"/></g>
<g transform="translate(565.20 270.00) rotate(-90)"><text transform="translate(-60.00 0.00) scale(1.13 1)" font-size="11.1" font-style="italic" stroke="#000" stroke-width="0.22">P</text><text transform="translate(-53.30 0.00) scale(1.13 1)" font-size="11.1" stroke="#000" stroke-width="0.22">(</text><text transform="translate(-43.30 0.00) scale(1.13 1)" font-size="11.1" font-style="italic" stroke="#000" stroke-width="0.22">N</text><text transform="translate(-34.00 0.00) scale(1.13 1)" font-size="11.1" stroke="#000" stroke-width="0.22">Δ</text><path d="M-24.24 -7.08q1.15 -1.7 2.30 -0.5t2.30 -0.5" stroke="#000" stroke-width="0.8" fill="none" stroke-linecap="round"/><text transform="translate(-26.50 0.00) scale(1.13 1)" font-size="11.1" font-style="italic" stroke="#000" stroke-width="0.22">σ</text><text transform="translate(-19.50 0.00) scale(1.13 1)" font-size="11.1" stroke="#000" stroke-width="0.22">/</text><text transform="translate(-8.20 0.00) scale(1.13 1)" font-size="11.1" font-style="italic" stroke="#000" stroke-width="0.22">κ</text><text transform="translate(0.30 0.00) scale(1.13 1)" font-size="11.1" stroke="#000" stroke-width="0.22">)</text><text transform="translate(4.50 0.00) scale(1.13 1)" font-size="11.1" stroke="#000" stroke-width="0.22">,</text><text transform="translate(11.60 0.00) scale(1.13 1)" font-size="11.1" font-style="italic" stroke="#000" stroke-width="0.22">P</text><text transform="translate(18.70 0.00) scale(1.13 1)" font-size="11.1" stroke="#000" stroke-width="0.22">(</text><text transform="translate(29.20 0.00) scale(1.13 1)" font-size="11.1" font-style="italic" stroke="#000" stroke-width="0.22">N</text><text transform="translate(39.20 0.00) scale(1.13 1)" font-size="11.1" stroke="#000" stroke-width="0.22">Δ</text><text transform="translate(46.60 0.00) scale(1.13 1)" font-size="11.1" font-style="italic" stroke="#000" stroke-width="0.22">σ</text><text transform="translate(53.60 0.00) scale(1.13 1)" font-size="11.1" stroke="#000" stroke-width="0.22">)</text><path d="M-49.80 -3.70L-48.40 -4.50L-46.30 0.40L-43.40 -10.90H-34.30" stroke="#000" stroke-width="0.85" fill="none" stroke-linejoin="miter"/><path d="M-15.40 -3.70L-14.00 -4.50L-11.90 0.40L-9.00 -8.20H0.00" stroke="#000" stroke-width="0.85" fill="none" stroke-linejoin="miter"/><path d="M22.80 -3.70L24.20 -4.50L26.30 0.40L29.20 -10.90H39.00" stroke="#000" stroke-width="0.85" fill="none" stroke-linejoin="miter"/></g>
</svg></body></html>
